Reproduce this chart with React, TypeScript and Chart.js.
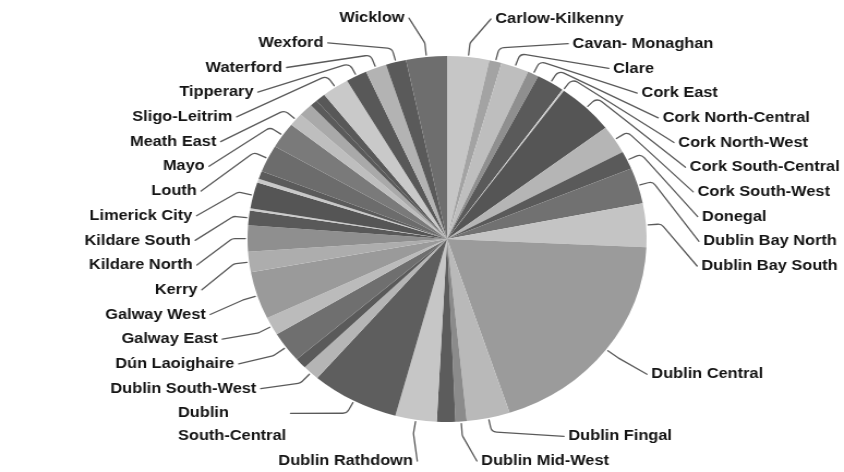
import React, { useEffect, useRef } from "react";
import { Chart, registerables } from "chart.js";

Chart.register(...registerables);

// ---- data (clockwise from 12 o'clock) ----
const constituencies = [
  "Carlow-Kilkenny", "Cavan- Monaghan", "Clare", "Cork East", "Cork North-Central",
  "Cork North-West", "Cork South-Central", "Cork South-West", "Donegal", "Dublin Bay North",
  "Dublin Bay South", "Dublin Central", "Dublin Fingal", "Dublin Mid-West", "Dublin North-West",
  "Dublin Rathdown", "Dublin South-Central", "Dublin South-West", "Dublin West", "Dún Laoighaire",
  "Galway East", "Galway West", "Kerry", "Kildare North", "Kildare South",
  "Laois", "Limerick City", "Limerick County", "Longford-Westmeath", "Louth",
  "Mayo", "Meath East", "Meath West", "Offaly", "Roscommon-Galway",
  "Sligo-Leitrim", "Tipperary", "Waterford", "Wexford", "Wicklow",
];

const shares = [
  3.4, 1.0, 2.25, 0.9, 2.25,
  0.15, 4.65, 2.5, 1.6, 3.15,
  3.85, 19.2, 3.5, 0.9, 1.5,
  3.35, 7.1, 1.35, 0.95, 2.7,
  1.6, 4.2, 1.8, 2.3, 1.3,
  0.2, 2.3, 0.35, 0.7, 2.4,
  2.3, 1.15, 1.15, 0.6, 0.8,
  2.2, 1.7, 1.7, 1.65, 3.3,
];

// labels that are shown on the chart
const shownLabels = [
  "Carlow-Kilkenny", "Cavan- Monaghan", "Clare", "Cork East", "Cork North-Central",
  "Cork North-West", "Cork South-Central", "Cork South-West", "Donegal", "Dublin Bay North",
  "Dublin Bay South", "Dublin Central", "Dublin Fingal", "Dublin Mid-West", "Dublin Rathdown",
  "Dublin South-Central", "Dublin South-West", "Dún Laoighaire", "Galway East", "Galway West",
  "Kerry", "Kildare North", "Kildare South", "Limerick City", "Louth",
  "Mayo", "Meath East", "Sligo-Leitrim", "Tipperary", "Waterford",
  "Wexford", "Wicklow",
];

// ---- styles ----
const sliceGreys = [
  "#c6c6c6", "#a3a3a3", "#bebebe", "#8f8f8f", "#5a5a5a",
  "#cfcfcf", "#555555", "#b5b5b5", "#5a5a5a", "#717171",
  "#c4c4c4", "#9b9b9b", "#b9b9b9", "#8b8b8b", "#5c5c5c",
  "#c6c6c6", "#5e5e5e", "#b5b5b5", "#5a5a5a", "#6f6f6f",
  "#bbbbbb", "#9a9a9a", "#adadad", "#8f8f8f", "#595959",
  "#cccccc", "#555555", "#c8c8c8", "#5b5b5b", "#6c6c6c",
  "#7a7a7a", "#bebebe", "#a9a9a9", "#5a5a5a", "#585858",
  "#c9c9c9", "#585858", "#b3b3b3", "#5a5a5a", "#6e6e6e",
];

const STRETCH = 1.0904;
const W = 774;
const H = 472;
const FONT = 'bold 15px "Liberation Sans", Arial, sans-serif';
const ROW = 24.7;
const LINE_GAP = 23;
const LABEL_A = 235;
const LABEL_B = 224;
const MIN_Y = 19;
const MAX_Y = 461;
const WRAP_WIDTH = 142;

function wrapText(ctx: CanvasRenderingContext2D, text: string, maxW: number): string[] {
  const words = text.split(" ");
  const lines: string[] = [];
  let cur = "";
  for (const w of words) {
    const test = cur ? cur + " " + w : w;
    if (cur && ctx.measureText(test).width > maxW) {
      lines.push(cur);
      cur = w;
    } else {
      cur = test;
    }
  }
  if (cur) lines.push(cur);
  return lines;
}

const outerLabels = {
  id: "outerLabels",
  afterDatasetsDraw(chart: any) {
    const ctx: CanvasRenderingContext2D = chart.ctx;
    const meta = chart.getDatasetMeta(0);
    ctx.save();
    ctx.font = FONT;
    const items: any[] = [];
    meta.data.forEach((arc: any, i: number) => {
      const name = constituencies[i];
      if (!shownLabels.includes(name)) return;
      const p = arc.getProps(["x", "y", "startAngle", "endAngle", "outerRadius"], true);
      const mid = (p.startAngle + p.endAngle) / 2;
      const lines = wrapText(ctx, name, WRAP_WIDTH);
      const width = Math.max(...lines.map((l) => ctx.measureText(l).width));
      const h = LINE_GAP * (lines.length - 1) + ROW;
      items.push({
        lines, width, h, mid,
        cx: p.x, cy: p.y, r: p.outerRadius,
        right: Math.cos(mid) >= 0,
        y: p.y + LABEL_B * Math.sin(mid),
      });
    });

    for (const side of [true, false]) {
      const list = items.filter((it) => it.right === side).sort((a, b) => a.y - b.y);
      for (let k = 0; k < list.length; k++) {
        if (k === 0) list[k].y = Math.max(list[k].y, MIN_Y - ROW / 2 + list[k].h / 2);
        else list[k].y = Math.max(list[k].y, list[k - 1].y + (list[k - 1].h + list[k].h) / 2);
      }
      for (let k = list.length - 1; k >= 0; k--) {
        if (k === list.length - 1) list[k].y = Math.min(list[k].y, MAX_Y + ROW / 2 - list[k].h / 2);
        else list[k].y = Math.min(list[k].y, list[k + 1].y - (list[k].h + list[k + 1].h) / 2);
      }
    }

    ctx.lineJoin = "round";
    ctx.lineCap = "round";
    for (const it of items) {
      const firstY = it.y - ((it.lines.length - 1) * LINE_GAP) / 2;
      const dy = firstY - it.cy;
      const f = Math.sqrt(Math.max(0, 1 - (dy / LABEL_B) ** 2));
      let textLeft: number;
      let ax: number;
      if (it.right) {
        textLeft = it.cx + LABEL_A * f;
        ax = textLeft - 4;
      } else {
        const textRight = it.cx - LABEL_A * f;
        textLeft = textRight - it.width;
        ax = textRight + 4;
      }
      const c = Math.cos(it.mid);
      const s = Math.sin(it.mid);
      const ex = it.cx + c * (it.r + 2);
      const ey = it.cy + s * (it.r + 2);
      const px = it.cx + c * (it.r + 14);
      const py = it.cy + s * (it.r + 14);
      ctx.beginPath();
      ctx.strokeStyle = "#5a5a5a";
      ctx.lineWidth = 1.3;
      ctx.moveTo(ex, ey);
      ctx.arcTo(px, py, ax, firstY, 6);
      ctx.lineTo(ax, firstY);
      ctx.stroke();

      ctx.fillStyle = "#141414";
      ctx.textAlign = "left";
      ctx.textBaseline = "middle";
      it.lines.forEach((ln: string, j: number) => {
        ctx.fillText(ln, textLeft, firstY + j * LINE_GAP);
      });
    }
    ctx.restore();
  },
};

export default function App() {
  const ref = useRef<HTMLCanvasElement>(null);
  useEffect(() => {
    if (!ref.current) return;
    const chart = new Chart(ref.current, {
      type: "pie",
      data: {
        labels: constituencies,
        datasets: [
          {
            data: shares,
            backgroundColor: sliceGreys,
            borderWidth: 0,
          },
        ],
      },
      options: {
        responsive: false,
        animation: false,
        devicePixelRatio: 1,
        layout: { padding: { left: 227, right: 181, top: 56, bottom: 50 } },
        plugins: {
          legend: { display: false },
          tooltip: { enabled: false },
        },
      },
      plugins: [outerLabels],
    });
    return () => chart.destroy();
  }, []);

  return (
    <div
      style={{
        position: "absolute",
        left: 0,
        top: 0,
        width: 844,
        height: 472,
        overflow: "hidden",
        background: "#ffffff",
      }}
    >
      <canvas
        ref={ref}
        width={W}
        height={H}
        style={{
          width: W,
          height: H,
          display: "block",
          transform: `scaleX(${STRETCH})`,
          transformOrigin: "0 0",
        }}
      />
    </div>
  );
}
